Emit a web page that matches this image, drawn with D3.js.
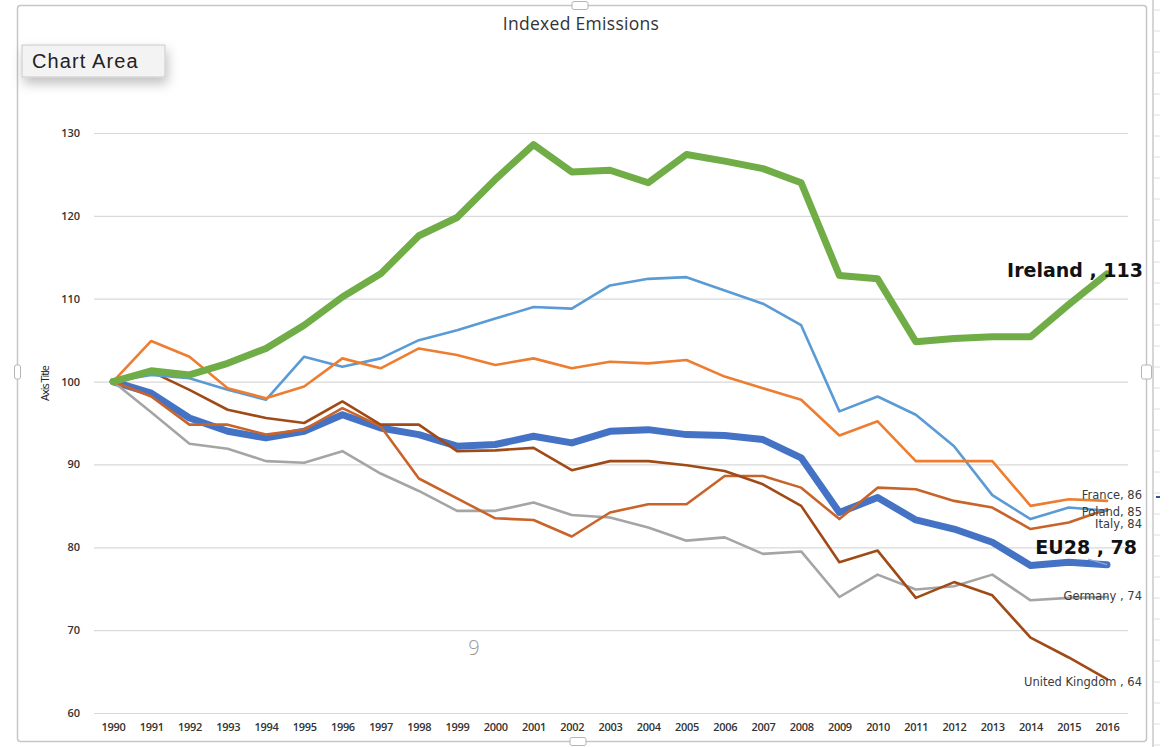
<!DOCTYPE html>
<html>
<head>
<meta charset="utf-8">
<script src="https://cdn.jsdelivr.net/npm/d3@7"></script>
<style>
  body { margin: 0; background: #fff; }
  .container { width: 1169px; height: 747px; }
</style>
</head>
<body>
<div class="container"></div>
<script>
// chart values
var years = [1990, 1991, 1992, 1993, 1994, 1995, 1996, 1997, 1998, 1999, 2000, 2001, 2002,
  2003, 2004, 2005, 2006, 2007, 2008, 2009, 2010, 2011, 2012, 2013, 2014, 2015, 2016];

var ireland = [100, 101.3, 100.8, 102.2, 104.0, 106.8, 110.2, 113.0, 117.6, 119.8, 124.4, 128.6, 125.3,
  125.5, 124.0, 127.4, 126.6, 125.7, 124.0, 112.8, 112.4, 104.8, 105.2, 105.4, 105.4, 109.3, 113.0];
var poland = [100, 100.8, 100.4, 99.0, 97.8, 103.0, 101.8, 102.8, 105.0, 106.2, 107.6, 109.0, 108.8,
  111.6, 112.4, 112.6, 111.0, 109.4, 106.8, 96.4, 98.2, 96.0, 92.2, 86.3, 83.4, 84.8, 84.4];
var france = [100, 104.9, 103.0, 99.2, 98.0, 99.4, 102.8, 101.6, 104.0, 103.2, 102.0, 102.8, 101.6,
  102.4, 102.2, 102.6, 100.6, 99.2, 97.8, 93.5, 95.2, 90.4, 90.4, 90.4, 85.0, 85.8, 85.6];
var eu28 = [100, 98.6, 95.6, 94.0, 93.2, 94.0, 96.0, 94.4, 93.6, 92.2, 92.4, 93.4, 92.6,
  94.0, 94.2, 93.6, 93.5, 93.0, 90.8, 84.2, 86.0, 83.3, 82.2, 80.6, 77.8, 78.2, 77.9];
var germany = [100, 96.3, 92.5, 91.9, 90.4, 90.2, 91.6, 88.9, 86.8, 84.4, 84.4, 85.4, 83.9,
  83.6, 82.4, 80.8, 81.2, 79.2, 79.5, 74.0, 76.7, 74.9, 75.3, 76.7, 73.6, 73.9, 74.0];
var italy = [100, 98.2, 94.8, 94.8, 93.6, 94.2, 96.8, 94.6, 88.3, 85.9, 83.5, 83.3, 81.3,
  84.2, 85.2, 85.2, 88.6, 88.6, 87.2, 83.4, 87.2, 87.0, 85.6, 84.8, 82.2, 83.0, 84.6];
var uk = [100, 101.2, 99.0, 96.6, 95.6, 95.0, 97.6, 94.8, 94.8, 91.6, 91.7, 92.0, 89.3,
  90.4, 90.4, 89.9, 89.2, 87.6, 85.0, 78.2, 79.6, 73.9, 75.8, 74.2, 69.1, 66.7, 64.1];

var yTicks = [60, 70, 80, 90, 100, 110, 120, 130];

// series in drawing order (label text + style)
var series = [
  { name: "EU28", values: eu28, color: "#4472C4", width: 7, label: "EU28 , 78", big: true, dx: 30, dy: -11 },
  { name: "Germany", values: germany, color: "#A5A5A5", width: 2.6, label: "Germany , 74", dx: 35, dy: 3 },
  { name: "Italy", values: italy, color: "#C8642A", width: 2.6, label: "Italy, 84", dx: 35, dy: 19 },
  { name: "United Kingdom", values: uk, color: "#A04B17", width: 2.6, label: "United Kingdom , 64", dx: 35, dy: 7 },
  { name: "Poland", values: poland, color: "#5B9BD5", width: 2.6, label: "Poland, 85", dx: 35, dy: 5 },
  { name: "France", values: france, color: "#ED7D31", width: 2.6, label: "France, 86", dx: 35, dy: -2 },
  { name: "Ireland", values: ireland, color: "#70AD47", width: 7, label: "Ireland , 113", big: true, dx: 36, dy: 3 }
];

var W = 1169, H = 747;

var svg = d3.select(".container").append("svg")
  .attr("width", W)
  .attr("height", H);

var defs = svg.append("defs");
var shadow = defs.append("filter").attr("id", "shadow")
  .attr("x", "-20%").attr("y", "-30%").attr("width", "150%").attr("height", "220%");
shadow.append("feDropShadow")
  .attr("dx", 2).attr("dy", 6).attr("stdDeviation", 6)
  .attr("flood-color", "#000").attr("flood-opacity", 0.25);

// chart frame (selected chart area)
var frame = svg.append("g");
frame.append("rect")
  .attr("x", 17.5).attr("y", 5.5).attr("width", 1129).attr("height", 736)
  .attr("rx", 3)
  .style("fill", "none").style("stroke", "#c6c6c6").style("stroke-width", 1.5);

var handles = [[580, 5.5, 16, 8], [578, 741.5, 16, 8], [17.5, 372, 6, 14], [1146.5, 372, 10, 14]];
frame.selectAll("rect.handle")
  .data(handles)
  .enter().append("rect")
  .attr("class", "handle")
  .attr("x", function (d) { return d[0] - d[2] / 2; })
  .attr("y", function (d) { return d[1] - d[3] / 2; })
  .attr("width", function (d) { return d[2]; })
  .attr("height", function (d) { return d[3]; })
  .attr("rx", 2)
  .style("fill", "#fff").style("stroke", "#b5b5b5");

// ruler strip on the right edge
frame.append("line")
  .attr("x1", 1153).attr("x2", 1153).attr("y1", 0).attr("y2", H)
  .style("stroke", "#c8c8c8").style("stroke-width", 1.5);
frame.selectAll("line.rt")
  .data(d3.range(10, H, 21))
  .enter().append("line")
  .attr("class", "rt")
  .attr("x1", 1154).attr("x2", 1160)
  .attr("y1", function (d) { return d; }).attr("y2", function (d) { return d; })
  .style("stroke", "#dedede");
frame.append("rect")
  .attr("x", 1156).attr("y", 496).attr("width", 4).attr("height", 2)
  .style("fill", "#2f5597");

// scales
var x = d3.scalePoint().domain(years).range([113, 1107]);
var y = d3.scaleLinear().domain([60, 130]).range([713, 133]);

// gridlines + y labels
var yAxis = svg.append("g")
  .attr("transform", "translate(94,0)")
  .call(d3.axisLeft(y).tickValues(yTicks).tickSize(-1034).tickPadding(14));
yAxis.select(".domain").remove();
yAxis.selectAll(".tick line").style("stroke", "#d9d9d9").style("stroke-width", 1.2);
yAxis.selectAll(".tick text")
  .style("font-family", "'Open Sans', sans-serif")
  .style("font-size", "11px").style("font-weight", 600).style("fill", "#333");

// x labels
var xAxis = svg.append("g")
  .attr("transform", "translate(0,713)")
  .call(d3.axisBottom(x).tickSize(0).tickPadding(10));
xAxis.select(".domain").remove();
xAxis.selectAll(".tick text")
  .style("font-family", "'Open Sans', sans-serif")
  .style("font-size", "11px").style("font-weight", 600).style("fill", "#333")
  .attr("letter-spacing", "-0.3");

// title and axis title
svg.append("text")
  .attr("x", 581).attr("y", 30)
  .attr("text-anchor", "middle")
  .style("font-family", "'Open Sans', sans-serif").style("font-size", "17.5px").style("fill", "#333")
  .attr("letter-spacing", "0.3")
  .text("Indexed Emissions");

svg.append("text")
  .attr("transform", "translate(49,383) rotate(-90)")
  .attr("text-anchor", "middle")
  .style("font-family", "'Open Sans', sans-serif").style("font-size", "11px").style("fill", "#222")
  .attr("textLength", 36)
  .text("Axis Title");

// page number
svg.append("text")
  .attr("x", 474).attr("y", 655)
  .attr("text-anchor", "middle")
  .style("font-family", "'Open Sans', sans-serif").style("font-size", "20px").style("font-weight", 300)
  .style("fill", "#9a9a9a")
  .text("9");

// lines
var line = d3.line()
  .x(function (d, i) { return x(years[i]); })
  .y(function (d) { return y(d); });

svg.append("g").selectAll("path")
  .data(series)
  .enter().append("path")
  .attr("d", function (d) { return line(d.values); })
  .style("fill", "none")
  .style("stroke", function (d) { return d.color; })
  .style("stroke-width", function (d) { return d.width; })
  .style("stroke-linejoin", "round")
  .style("stroke-linecap", "round");

// leader line for the EU28 label
svg.append("line")
  .attr("x1", 1088).attr("y1", 559).attr("x2", x(2016)).attr("y2", y(eu28[eu28.length - 1]))
  .style("stroke", "#8ea9d8").style("stroke-width", 1.2);

// end labels
svg.append("g").selectAll("text")
  .data(series)
  .enter().append("text")
  .attr("x", function (d) { return x(2016) + d.dx; })
  .attr("y", function (d) { return y(d.values[d.values.length - 1]) + d.dy; })
  .attr("text-anchor", "end")
  .style("font-family", "'DejaVu Sans', Verdana, sans-serif")
  .style("font-size", function (d) { return d.big ? "19px" : "11.5px"; })
  .style("font-weight", function (d) { return d.big ? "bold" : "normal"; })
  .style("fill", function (d) { return d.big ? "#111" : "#3a3a3a"; })
  .text(function (d) { return d.label; });

// "Chart Area" tooltip
var tip = svg.append("g").attr("transform", "translate(22,45)");
tip.append("rect")
  .attr("width", 143).attr("height", 32)
  .style("fill", "#f3f3f3").style("stroke", "#c9c9c9")
  .attr("filter", "url(#shadow)");
tip.append("text")
  .attr("x", 10).attr("y", 23)
  .style("font-family", "'Liberation Sans', Arial, sans-serif").style("font-size", "20px").style("fill", "#222")
  .attr("letter-spacing", "1.1")
  .text("Chart Area");
</script>
</body>
</html>
